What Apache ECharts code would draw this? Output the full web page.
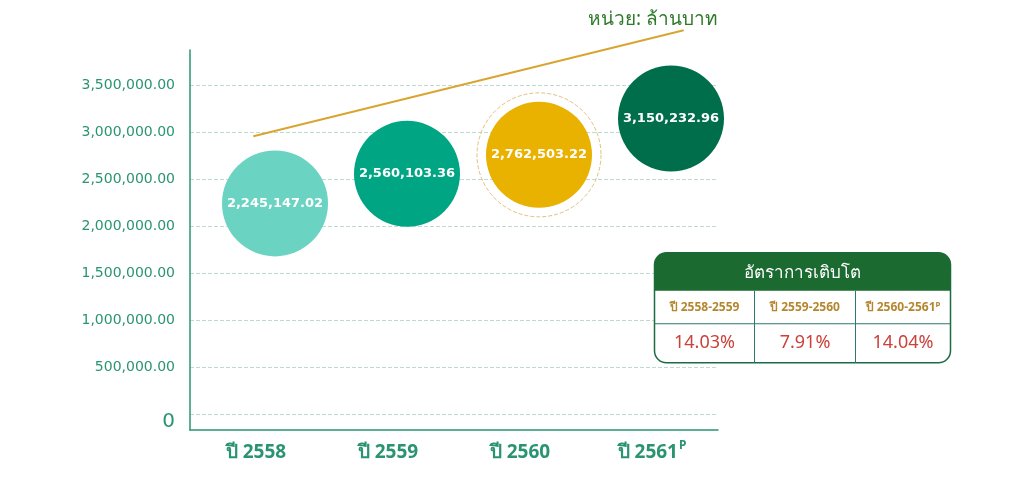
<!DOCTYPE html>
<html lang="th">
<head>
    <meta charset="UTF-8">
    <title>รายได้ ล้านบาท</title>
    <script src="https://cdn.jsdelivr.net/npm/echarts@6/dist/echarts.min.js"></script>
    <style>
        html, body { margin: 0; padding: 0; background: #fff; }
        #chart { width: 1023px; height: 481px; }
    </style>
</head>
<body>
<div id="chart"></div>
<script>
// ข้อมูล
var years = ['ปี 2558', 'ปี 2559', 'ปี 2560', 'ปี 2561'];
var amounts = [2245147.02, 2560103.36, 2762503.22, 3150232.96];
var bubbleColors = ['#6bd3c2', '#00a584', '#e9b100', '#006e4a'];
var ringIndex = 2;
// เส้นแนวโน้ม (แกน x ค่าต่อเนื่อง, แกน y ค่าเงิน)
var trendX = [-0.02, 3.24];
var trendY = [2960000, 4090000];
// ตารางอัตราการเติบโต
var growthTitle = 'อัตราการเติบโต';
var growthPeriods = ['ปี 2558-2559', 'ปี 2559-2560', 'ปี 2560-2561'];
var growthRates = ['14.03%', '7.91%', '14.04%'];

var green = '#2a9472';
var numFont = '"DejaVu Sans", "Noto Sans", sans-serif';

function fmt(v) {
    return v.toLocaleString('en-US', { minimumFractionDigits: 2, maximumFractionDigits: 2 });
}

var chart = echarts.init(document.getElementById('chart'));

// ตาราง
var tx = 652, ty = 252, tw = 296, th = 110, hh = 38, rowH = 33;
var colX = [0, 100, 201, 296];
var tableEls = [
    { type: 'rect', z: 100, shape: { x: 0, y: 0, width: tw, height: th, r: 12 },
      style: { fill: '#fff', stroke: '#1d6a45', lineWidth: 1.5 } },
    { type: 'rect', z: 101, shape: { x: 0, y: 0, width: tw, height: hh, r: [12, 12, 0, 0] },
      style: { fill: '#1b6a30' } },
    { type: 'text', z: 102, x: tw / 2, y: hh / 2 + 1,
      style: { text: growthTitle, fill: '#fff', font: '17px "Noto Sans", sans-serif', align: 'center', verticalAlign: 'middle' } },
    { type: 'line', z: 102, shape: { x1: 0, y1: hh + rowH, x2: tw, y2: hh + rowH },
      style: { stroke: '#2c7a6a', lineWidth: 1 } }
];
for (var c = 0; c < 3; c++) {
    var cx = (colX[c] + colX[c + 1]) / 2;
    if (c > 0) {
        tableEls.push({ type: 'line', z: 102, shape: { x1: colX[c], y1: hh, x2: colX[c], y2: th },
            style: { stroke: '#2c7a6a', lineWidth: 1 } });
    }
    tableEls.push({ type: 'text', z: 102, x: cx, y: hh + rowH / 2,
        style: { text: growthPeriods[c] + (c === 2 ? 'ᴾ' : ''), fill: '#b5862e', font: 'bold 12px "Noto Sans", sans-serif',
                 align: 'center', verticalAlign: 'middle' } });
    tableEls.push({ type: 'text', z: 102, x: cx, y: hh + rowH + (th - hh - rowH) / 2,
        style: { text: growthRates[c], fill: '#c9423b', font: '18px "Noto Sans", sans-serif',
                 align: 'center', verticalAlign: 'middle' } });
}

var option = {
    backgroundColor: '#fff',
    animation: false,
    title: {
        text: 'หน่วย: ล้านบาท',
        left: 583, top: 5,
        textStyle: { color: '#2e7a2a', fontSize: 19, fontWeight: 'normal', fontFamily: '"Noto Sans", sans-serif' }
    },
    grid: { left: 190, right: 305, top: 50, bottom: 51 },
    xAxis: [{
        type: 'category',
        data: years,
        axisLine: { onZero: false, lineStyle: { color: green, width: 1.5 } },
        axisTick: { show: false },
        splitLine: { show: false },
        axisLabel: {
            interval: 0,
            margin: 10,
            color: green,
            fontSize: 19,
            lineHeight: 26,
            fontWeight: 'bold',
            fontFamily: '"Noto Sans", sans-serif',
            formatter: function (v, i) {
                return i === 3 ? v + '{sup|P}' : v;
            },
            rich: { sup: { fontSize: 12, fontWeight: 'bold', color: green, verticalAlign: 'top', lineHeight: 14, padding: [0, 0, 0, 1] } }
        }
    }, {
        type: 'value', show: false, min: -0.5, max: 3.5
    }],
    yAxis: {
        type: 'value',
        min: -170000,
        max: 3880000,
        minInterval: 500000,
        maxInterval: 500000,
        axisLine: { show: true, onZero: false, lineStyle: { color: green, width: 1.5 } },
        axisTick: { show: false },
        splitLine: { show: true, showMinLine: false, showMaxLine: false,
                     lineStyle: { color: '#bcdcd3', type: 'dashed', width: 1 } },
        axisLabel: {
            showMinLabel: false,
            showMaxLabel: false,
            margin: 15,
            color: green,
            fontSize: 14,
            fontFamily: numFont,
            formatter: function (v) {
                if (v === 0) return '{z|0}';
                return fmt(v);
            },
            rich: { z: { fontSize: 20, color: green, fontFamily: numFont, padding: [16, 0, 0, 0] } }
        }
    },
    series: [{
        type: 'line',
        xAxisIndex: 1,
        clip: false,
        symbol: 'none',
        silent: true,
        lineStyle: { color: '#d9a531', width: 2 },
        data: trendX.map(function (x, i) { return [x, trendY[i]]; })
    }, {
        type: 'scatter',
        symbolSize: 124,
        symbolOffset: [19, 0],
        silent: true,
        itemStyle: { color: 'rgba(0,0,0,0)', borderColor: '#d9b25a', borderType: 'dashed', borderWidth: 1 },
        data: amounts.map(function (v, i) { return i === ringIndex ? v : '-'; })
    }, {
        type: 'scatter',
        symbolSize: 106,
        symbolOffset: [19, 0],
        data: amounts.map(function (v, i) {
            return { value: v, itemStyle: { color: bubbleColors[i], opacity: 1 } };
        }),
        label: {
            show: true,
            position: 'inside',
            color: '#fff',
            fontSize: 13,
            fontWeight: 'bold',
            fontFamily: numFont,
            formatter: function (p) { return fmt(p.value); }
        }
    }],
    graphic: [{ type: 'group', left: tx, top: ty, z: 100, children: tableEls }]
};

chart.setOption(option);
</script>
</body>
</html>
